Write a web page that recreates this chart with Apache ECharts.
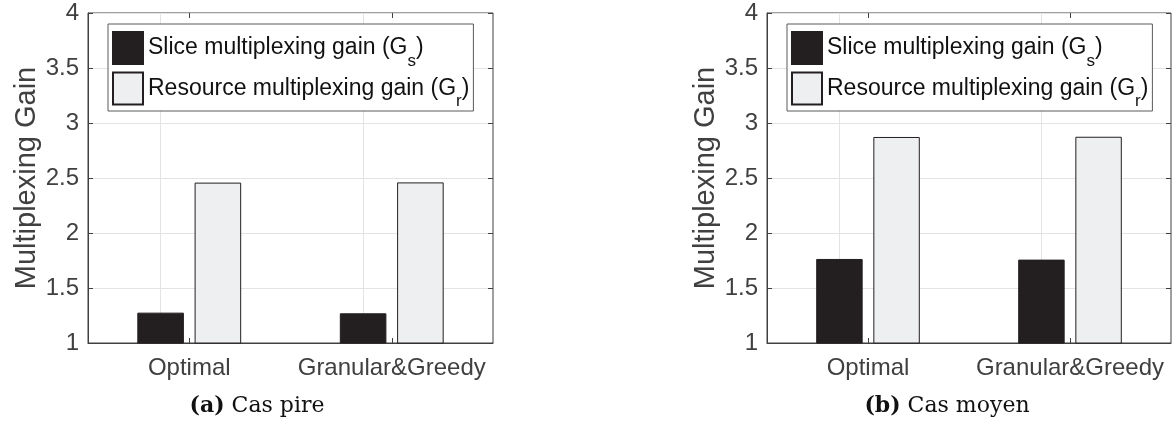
<!DOCTYPE html>
<html>
<head>
<meta charset="utf-8">
<title>Multiplexing Gain</title>
<script src="https://cdn.jsdelivr.net/npm/echarts@6/dist/echarts.min.js"></script>
<style>
    html,body{margin:0;padding:0;background:#fff;}
    #main{width:1176px;height:425px;}
</style>
</head>
<body>
<div id="main"></div>
<script>

/********** 数据 ********** */
var categories = ["Optimal", "Granular&Greedy"];
var seriesNames = ["Slice multiplexing gain (G_s)", "Resource multiplexing gain (G_r)"];

// (a) Cas pire
var sliceGainWorst = [1.276, 1.27];
var resourceGainWorst = [2.458, 2.46];

// (b) Cas moyen
var sliceGainAvg = [1.764, 1.758];
var resourceGainAvg = [2.873, 2.875];

var yTicks = { min: 1, max: 4, interval: 0.5 };
var captions = ["{b|(a)} Cas pire", "{b|(b)} Cas moyen"];


var sans = "'Liberation Sans', Arial, sans-serif";
var axisColor = "#404040";
var gridColor = "#e3e3e3";


/********** 坐标轴 ********** */
function bottomAxis(gridIndex){
    return {
        type : "category",
        gridIndex : gridIndex,
        position : "bottom",
        data : categories,
        axisLine : { show : true, lineStyle : { color : axisColor, width : 1 } },
        axisTick : { show : true, inside : true, alignWithLabel : true, length : 5, lineStyle : { color : axisColor } },
        axisLabel : { color : axisColor, fontSize : 24, fontFamily : sans, margin : 13, interval : 0, hideOverlap : false },
        splitLine : { show : false }
    };
}

function topAxis(gridIndex){
    return {
        type : "category",
        gridIndex : gridIndex,
        position : "top",
        data : categories,
        axisLine : { show : false },
        axisTick : { show : true, inside : true, alignWithLabel : true, length : 5, lineStyle : { color : axisColor } },
        axisLabel : { show : false },
        splitLine : { show : false }
    };
}

function leftAxis(gridIndex){
    return {
        type : "value",
        gridIndex : gridIndex,
        position : "left",
        min : yTicks.min,
        max : yTicks.max,
        interval : yTicks.interval,
        name : "Multiplexing Gain",
        nameLocation : "middle",
        nameGap : 44,
        nameTextStyle : { color : axisColor, fontSize : 29, fontFamily : sans },
        axisLine : { show : true, lineStyle : { color : axisColor, width : 1 } },
        axisTick : { show : true, inside : true, length : 5, lineStyle : { color : axisColor } },
        axisLabel : { color : axisColor, fontSize : 24, fontFamily : sans, margin : 9 },
        splitLine : { show : true, lineStyle : { color : gridColor, width : 1 } }
    };
}

function rightAxis(gridIndex){
    return {
        type : "value",
        gridIndex : gridIndex,
        position : "right",
        min : yTicks.min,
        max : yTicks.max,
        interval : yTicks.interval,
        axisLine : { show : false },
        axisTick : { show : true, inside : true, length : 5, lineStyle : { color : axisColor } },
        axisLabel : { show : false },
        splitLine : { show : false }
    };
}


/********** 柱子 ********** */
function barSeries(name, data, axisIndex, dark){
    var s = {
        name : name,
        type : "bar",
        xAxisIndex : axisIndex,
        yAxisIndex : axisIndex,
        data : data,
        barWidth : "23%",
        barGap : "23%",
        itemStyle : {
            color : dark ? "#231f20" : "#eeeff1",
            borderColor : "#231f20",
            borderWidth : 1
        }
    };
    // 竖向网格线（在类目中心，柱子下面）
    if(dark){
        s.markLine = {
            silent : true,
            z : 1,
            symbol : "none",
            label : { show : false },
            lineStyle : { color : gridColor, width : 1, type : "solid" },
            data : categories.map(function(c){ return { xAxis : c }; })
        };
    }
    return s;
}


/********** 图例 ********** */
function legendAt(left){
    return {
        left : left,
        top : 24,
        orient : "vertical",
        data : seriesNames,
        icon : "rect",
        itemWidth : 30,
        itemHeight : 32,
        itemGap : 2,
        padding : [7, 4, 1, 4],
        backgroundColor : "#fff",
        borderColor : "#5a5a5a",
        borderWidth : 1,
        selectedMode : false,
        formatter : function(name){
            return name.replace(/^(.*)_(\w)\)$/, "{t|$1}{sub|$2}{t|)}");
        },
        textStyle : {
            color : "#111",
            fontSize : 23,
            fontFamily : sans,
            rich : {
                t : { fontSize : 23, fontFamily : sans, color : "#111" },
                sub : { fontSize : 17, fontFamily : sans, color : "#111", padding : [26, 0, 0, 0] }
            }
        }
    };
}


/********** 标题 ********** */
function caption(x, text){
    return {
        type : "text",
        x : x,
        y : 406,
        style : {
            text : text,
            fill : "#111",
            align : "center",
            verticalAlign : "middle",
            font : "22px 'DejaVu Serif', serif",
            rich : {
                b : { fontWeight : "bold", fontSize : 22, fontFamily : "'DejaVu Serif', serif", fill : "#111" }
            }
        }
    };
}


var myChart = echarts.init(document.getElementById("main"));

var option = {
    animation : false,
    backgroundColor : "#fff",
    grid : [
        { left : 88, top : 13, width : 405, height : 330, show : true, borderColor : axisColor, borderWidth : 1, backgroundColor : "#fff" },
        { left : 767, top : 13, width : 404, height : 330, show : true, borderColor : axisColor, borderWidth : 1, backgroundColor : "#fff" }
    ],
    legend : [ legendAt(108), legendAt(787) ],
    xAxis : [ bottomAxis(0), bottomAxis(1), topAxis(0), topAxis(1) ],
    yAxis : [ leftAxis(0), leftAxis(1), rightAxis(0), rightAxis(1) ],
    series : [
        barSeries(seriesNames[0], sliceGainWorst, 0, true),
        barSeries(seriesNames[1], resourceGainWorst, 0, false),
        barSeries(seriesNames[0], sliceGainAvg, 1, true),
        barSeries(seriesNames[1], resourceGainAvg, 1, false)
    ],
    graphic : [ caption(257, captions[0]), caption(947, captions[1]) ]
};

myChart.setOption(option);

</script>
</body>
</html>
